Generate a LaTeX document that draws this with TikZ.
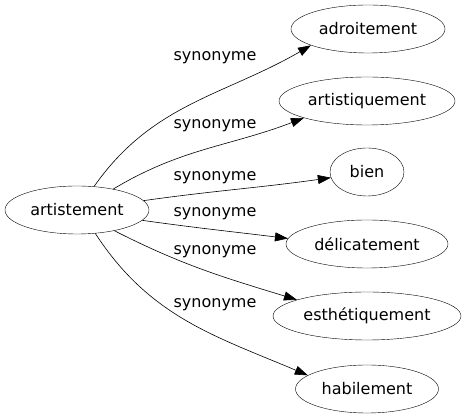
\documentclass[tikz,border=0pt]{standalone}
\usepackage{fontspec}
\setmainfont{DejaVu Sans}
\usepackage{tikz}
\usetikzlibrary{
  positioning,
  shapes.geometric,
  arrows.meta
}

\begin{document}
\begin{tikzpicture}[x=1pt,y=1pt,
  mot/.style={ellipse,draw,inner sep=0pt,minimum height=48pt,
    font=\fontsize{16}{19}\selectfont},
  lien/.style={-{Triangle[length=13pt,width=9pt]},line width=0.6pt},
  etiq/.style={font=\fontsize{16}{19}\selectfont,inner sep=0pt}
]
  \useasboundingbox (0,0) rectangle (466,419);

  % les mots
  \node[mot,minimum width=144pt] (A) at (77,209) {artistement};
  \node[mot,minimum width=154pt] (B) at (368,390) {adroitement};
  \node[mot,minimum width=176pt] (C) at (367,318) {artistiquement};
  \node[mot,minimum width=74pt]  (D) at (367,247) {bien};
  \node[mot,minimum width=162pt] (E) at (367,175) {délicatement};
  \node[mot,minimum width=188pt] (F) at (367,103) {esthétiquement};
  \node[mot,minimum width=143pt] (G) at (367,30)  {habilement};

  % les liens
  \draw[lien] (A.54)  to[out=55,in=210]  (B.196);
  \draw[lien] (A.30)  to[out=31,in=201]  (C.195);
  \draw[lien] (A.8)   to[out=8,in=188]   (D.189);
  \draw[lien] (A.-9)  to[out=-8,in=173]  (E.176);
  \draw[lien] (A.-29) to[out=-27,in=163] (F.167);
  \draw[lien] (A.-52) to[out=-57,in=157] (G.167);

  % les étiquettes
  \node[etiq] (lB) at (215,361) {synonyme};
  \node[etiq] (lC) at (215,293) {synonyme};
  \node[etiq] (lD) at (215,241) {synonyme};
  \node[etiq] (lE) at (215,205) {synonyme};
  \node[etiq] (lF) at (215,167) {synonyme};
  \node[etiq] (lG) at (215,114) {synonyme};
\end{tikzpicture}
\end{document}
